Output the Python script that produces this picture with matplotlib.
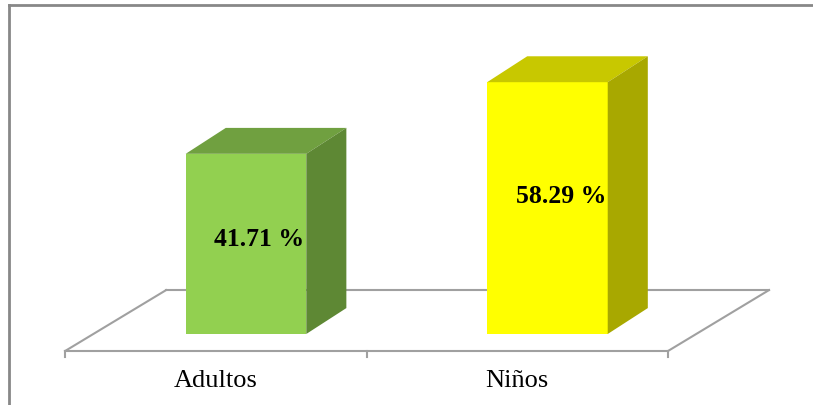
import matplotlib.pyplot as plt
from matplotlib.patches import Polygon
from matplotlib.lines import Line2D

categorias = ['Adultos', 'Niños']
porcentajes = [41.71, 58.29]
etiquetas = ['41.71 %', '58.29 %']

frente = ['#92D050', '#FFFF00']
techo = ['#70A040', '#C8C800']
lado = ['#5E8834', '#A8A800']

plt.rcParams['font.family'] = ['Liberation Serif', 'DejaVu Serif']

fig = plt.figure(figsize=(8.13, 4.06), dpi=100)
ax = fig.add_axes([0, 0, 1, 1])
ax.set_xlim(-0.816, 1.881)
ax.set_ylim(-16.44, 77.55)
ax.axis('off')

ancho = 0.4
dx, dy = 0.133, 6.0      # profundidad de las barras
fx, fy = 0.335, 14.1     # profundidad del piso
piso_y = -3.94

# piso en perspectiva
n = len(categorias)
izq, der = -0.5 - ancho / 4, n - 0.5 - ancho / 4
gris = '#A0A0A0'
ax.plot([izq, der], [piso_y, piso_y], color=gris, lw=1.5, zorder=1)
ax.plot([izq + fx, der + fx], [piso_y + fy, piso_y + fy], color=gris, lw=1.5, zorder=1)
ax.plot([izq, izq + fx], [piso_y, piso_y + fy], color=gris, lw=1.5, zorder=1)
ax.plot([der, der + fx], [piso_y, piso_y + fy], color=gris, lw=1.5, zorder=1)
for i in range(n + 1):
    ax.plot([izq + i, izq + i], [piso_y, piso_y - 1.5], color=gris, lw=1.5, zorder=1)

x = list(range(n))
barras = ax.bar(x, porcentajes, width=ancho, color=frente, zorder=3)
for b, ct, cl in zip(barras, techo, lado):
    x0, x1 = b.get_x(), b.get_x() + b.get_width()
    h = b.get_height()
    ax.add_patch(Polygon([(x0, h), (x0 + dx, h + dy), (x1 + dx, h + dy), (x1, h)],
                         closed=True, color=ct, lw=0, zorder=3))
    ax.add_patch(Polygon([(x1, 0), (x1, h), (x1 + dx, h + dy), (x1 + dx, dy)],
                         closed=True, color=cl, lw=0, zorder=3))

for xi, v, t in zip(x, porcentajes, etiquetas):
    ax.text(xi + dx / 3, v * 0.6 - 3, t, ha='center', va='center',
            fontsize=18.5, fontweight='bold', zorder=4)

for i, c in enumerate(categorias):
    ax.text(izq + i + 0.5, -10.6, c, ha='center', va='center', fontsize=19, zorder=4)

# marco
borde = '#888888'
fig.add_artist(Line2D([8.5 / 813, 8.5 / 813], [0, 1 - 5.5 / 406], color=borde, lw=2))
fig.add_artist(Line2D([8.5 / 813, 1], [1 - 5.5 / 406, 1 - 5.5 / 406], color=borde, lw=2))

fig.savefig('out.png', dpi=100)
